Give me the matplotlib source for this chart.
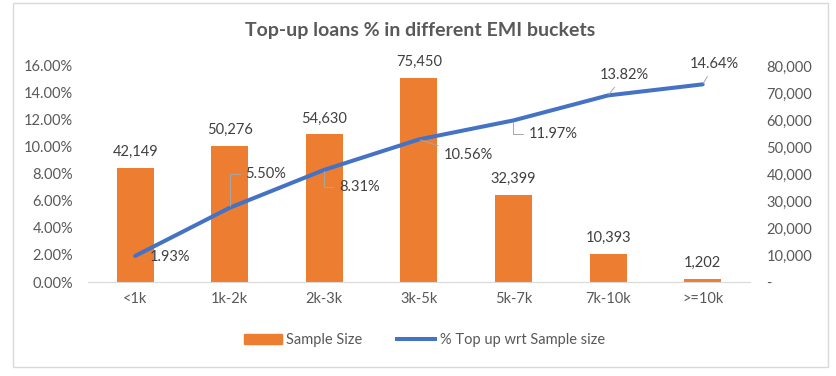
import matplotlib.pyplot as plt
from matplotlib.patches import Rectangle, Patch
from matplotlib.lines import Line2D
from matplotlib.ticker import FuncFormatter

plt.rcParams['font.family'] = ['Lato', 'DejaVu Sans']

# data
buckets = ['<1k', '1k-2k', '2k-3k', '3k-5k', '5k-7k', '7k-10k', '>=10k']
sample_size = [42149, 50276, 54630, 75450, 32399, 10393, 1202]
topup_pct = [1.93, 5.50, 8.31, 10.56, 11.97, 13.82, 14.64]

orange = '#ED7D31'
blue = '#4472C4'
tick_col = '#595959'
lab_col = '#404040'
fs = 10.5

fig = plt.figure(figsize=(8.37, 3.76), dpi=100)
ax = fig.add_axes([0.105, 0.25, 0.791, 0.5745])
ax2 = ax.twinx()

x = list(range(len(buckets)))

# bars on the secondary axis, line on the primary axis drawn on top
ax2.bar(x, sample_size, width=0.39, color=orange, zorder=2)
ax.set_zorder(ax2.get_zorder() + 1)
ax.patch.set_visible(False)
ax.plot(x, [v / 100 for v in topup_pct], color=blue, lw=2.9,
        solid_capstyle='round', solid_joinstyle='round', zorder=3)

ax.set_xlim(-0.5, len(buckets) - 0.5)
ax.set_ylim(0, 0.16)
ax2.set_ylim(0, 80000)
ax.set_yticks([i * 0.02 for i in range(9)])
ax2.set_yticks([i * 10000 for i in range(9)])
ax.yaxis.set_major_formatter(FuncFormatter(lambda v, p: f'{v * 100:.2f}%'))
ax2.yaxis.set_major_formatter(FuncFormatter(lambda v, p: '-' if v == 0 else f'{v:,.0f}'))
ax.set_xticks(x)
ax.set_xticklabels(buckets)

for a in (ax, ax2):
    for s in a.spines.values():
        s.set_visible(False)
    a.tick_params(length=0, labelsize=fs, colors=tick_col)
ax.spines['bottom'].set_visible(True)
ax.spines['bottom'].set_color('#D9D9D9')
ax.tick_params(axis='y', pad=10.5)   # pad is in points
ax2.tick_params(axis='y', pad=12)
ax.tick_params(axis='x', pad=7.5)

# bar value labels
for xi, v in zip(x, sample_size):
    ax2.annotate(f'{v:,}', (xi, v), xytext=(0, 9), textcoords='offset pixels',
                 ha='center', va='bottom', fontsize=fs, color=lab_col)

# line labels (offsets in pixels, with leader lines like the original)
offsets = [(35, -1), (36, 34), (35, -17), (49, -16), (40, -14), (16, 20), (12, 20)]
elbow = [False, True, True, False, True, False, False]
for xi, v, (dx, dy), el in zip(x, topup_pct, offsets, elbow):
    conn = 'angle,angleA=0,angleB=90,rad=0' if el else 'arc3'
    arrow = None if xi == 0 else dict(arrowstyle='-', color='#A6A6A6', lw=0.7,
                                      shrinkA=2, shrinkB=1, connectionstyle=conn)
    ax.annotate(f'{v:.2f}%', (xi, v / 100), xytext=(dx, dy), textcoords='offset pixels',
                ha='center', va='center', fontsize=fs, color=lab_col, arrowprops=arrow)

fig.text(0.502, 0.918, 'Top-up loans % in different EMI buckets', ha='center', va='center',
         fontsize=14, fontweight='bold', color=tick_col)

handles = [Patch(color=orange), Line2D([0], [0], color=blue, lw=2.9)]
fig.legend(handles, ['Sample Size', '% Top up wrt Sample size'], loc='center',
           bbox_to_anchor=(0.507, 0.096), ncol=2, frameon=False, fontsize=fs,
           handlelength=2.6, handletextpad=0.3, columnspacing=2.4, labelcolor=tick_col)

fig.patches.append(Rectangle((13 / 837, 9 / 376), 815 / 837, 364 / 376, transform=fig.transFigure,
                             fill=False, edgecolor='#D9D9D9', lw=1))

fig.savefig('out.png', dpi=100)
